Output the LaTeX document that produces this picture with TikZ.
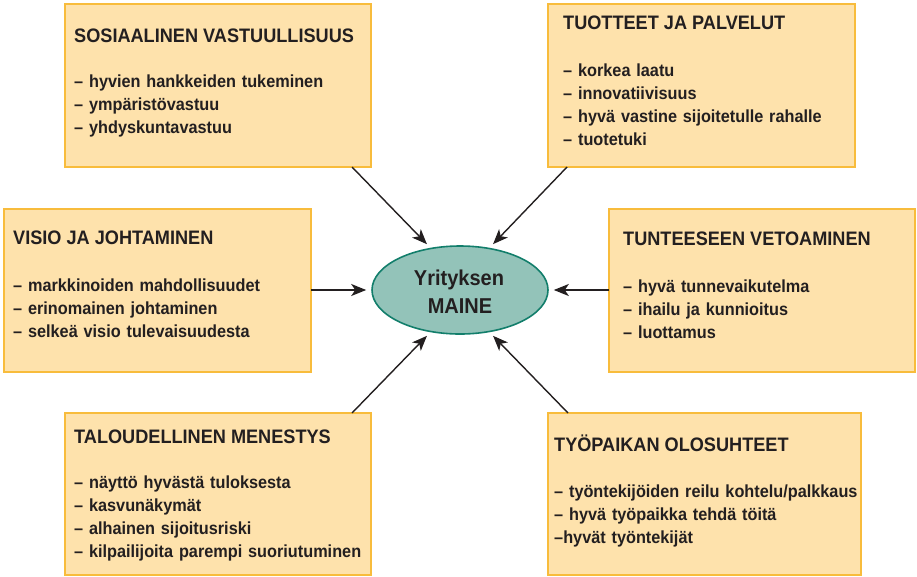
\documentclass[tikz,border=0pt]{standalone}
\usepackage{fontspec}
\newfontfamily\cf[FakeStretch=0.93]{Liberation Sans}
\usetikzlibrary{arrows.meta,shapes.geometric}
\definecolor{boxfill}{HTML}{FEE2AC}
\definecolor{boxline}{HTML}{F8BC3C}
\definecolor{elfill}{HTML}{93C3B9}
\definecolor{elline}{HTML}{127E6B}
\definecolor{ink}{HTML}{231F20}
\tikzset{
  box/.style={draw=boxline, fill=boxfill, line width=1.1pt, rectangle, inner sep=0pt, outer sep=0pt, anchor=north west},
  ttl/.style={anchor=base west, inner sep=0pt, text=ink, font={\cf\bfseries\fontsize{19.5}{23}\selectfont}},
  body/.style={anchor=base west, inner sep=0pt, text=ink, text width=360pt, align=left, font={\cf\bfseries\fontsize{17.5}{23}\selectfont}},
  arr/.style={draw=ink, line width=1.4pt, -{Stealth[length=15pt, width=12pt, inset=4pt]}, shorten >=5pt},
  mtxt/.style={anchor=base, inner sep=0pt, text=ink, font={\cf\bfseries\fontsize{21.5}{28}\selectfont}}
}
\begin{document}
\begin{tikzpicture}[x=1pt, y=-1pt]
\useasboundingbox (0,0) rectangle (917,576);
% boxes
\node[box, minimum width=306pt, minimum height=163pt] (b1) at (65,4) {};
\node[box, minimum width=307pt, minimum height=163pt] (b2) at (548,4) {};
\node[box, minimum width=307pt, minimum height=163pt] (b3) at (4,209) {};
\node[box, minimum width=306pt, minimum height=163pt] (b4) at (609,209) {};
\node[box, minimum width=306pt, minimum height=162pt] (b5) at (65,413) {};
\node[box, minimum width=313pt, minimum height=162pt] (b6) at (548,413) {};
% ellipse
\node[ellipse, draw=elline, fill=elfill, line width=1.6pt, minimum width=176pt, minimum height=88pt, inner sep=0pt] (m) at (460,290) {};
\node[mtxt] (m1) at (459,285) {Yrityksen};
\node[mtxt] (m2) at (460,313) {MAINE};
% texts
\node[ttl] (t1) at (74,42) {SOSIAALINEN VASTUULLISUUS};
\node[body] (l1) at (74,87) {– hyvien hankkeiden tukeminen\\– ympäristövastuu\\– yhdyskuntavastuu};
\node[ttl] (t2) at (563,29) {TUOTTEET JA PALVELUT};
\node[body] (l2) at (563,76) {– korkea laatu\\– innovatiivisuus\\– hyvä vastine sijoitetulle rahalle\\– tuotetuki};
\node[ttl] (t3) at (13,244) {VISIO JA JOHTAMINEN};
\node[body] (l3) at (13,291) {– markkinoiden mahdollisuudet\\– erinomainen johtaminen\\– selkeä visio tulevaisuudesta};
\node[ttl] (t4) at (623,245) {TUNTEESEEN VETOAMINEN};
\node[body] (l4) at (623,292) {– hyvä tunnevaikutelma\\– ihailu ja kunnioitus\\– luottamus};
\node[ttl] (t5) at (74,443) {TALOUDELLINEN MENESTYS};
\node[body] (l5) at (74,488) {– näyttö hyvästä tuloksesta\\– kasvunäkymät\\– alhainen sijoitusriski\\– kilpailijoita parempi suoriutuminen};
\node[ttl] (t6) at (554,451) {TYÖPAIKAN OLOSUHTEET};
\node[body] (l6) at (554,497) {– työntekijöiden reilu kohtelu/palkkaus\\– hyvä työpaikka tehdä töitä\\–hyvät työntekijät};
% arrows
\draw[arr] ([xshift=287pt]b1.south west) -- (m.125);
\draw[arr] ([xshift=19pt]b2.south west) -- (m.55);
\draw[arr] ([yshift=-81pt]b3.north east) -- (m.180);
\draw[arr] ([yshift=-81pt]b4.north west) -- (m.0);
\draw[arr] ([xshift=287pt]b5.north west) -- (m.235);
\draw[arr] ([xshift=20pt]b6.north west) -- (m.305);
\end{tikzpicture}
\end{document}
